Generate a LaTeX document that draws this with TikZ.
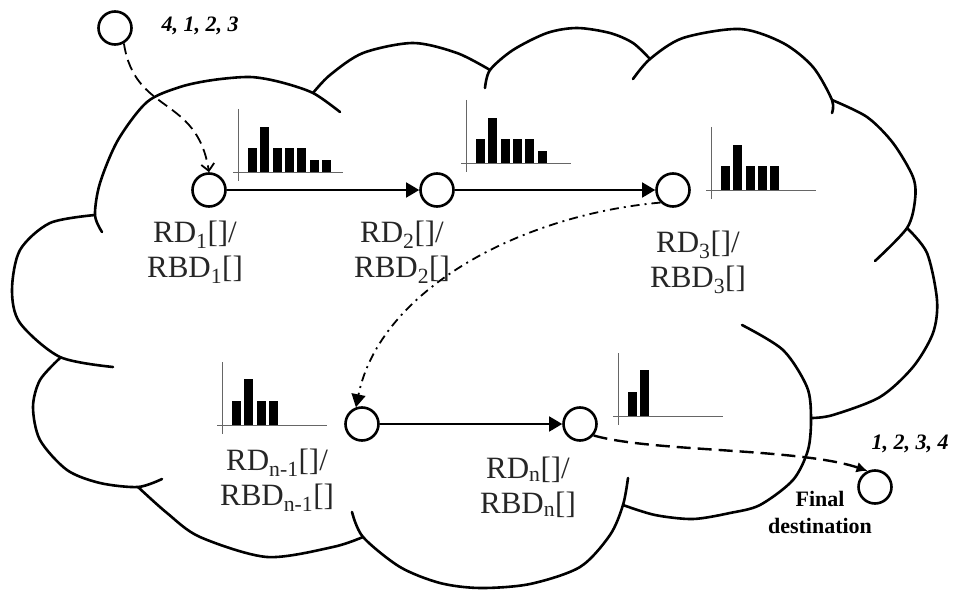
\documentclass[tikz,border=0pt]{standalone}
\usepackage{fontspec}
\setmainfont{Liberation Serif}
\usetikzlibrary{arrows.meta}

% #1 x of the y axis, #2 base line, #3 bar heights
\newcommand{\histo}[3]{%
  \draw[axis] (#1,#2-63) -- (#1,#2+9);
  \draw[axis] (#1-5,#2) -- (#1+105,#2);
  \foreach \h [count=\i] in {#3}
    \fill (#1+10+12.3*\i-12.3,#2) rectangle ++(9,-\h);
}

\begin{document}
\begin{tikzpicture}[x=1pt, y=-1pt,
  relay/.style={circle, draw, line width=2.6pt, minimum size=33pt, inner sep=0pt},
  cloud/.style={line width=2.6pt, line cap=round},
  axis/.style={draw=black!60, line width=1pt},
  tag/.style={align=center, inner sep=0pt, text=black!85, font=\fontsize{31}{35}\selectfont},
  seq/.style={inner sep=0pt, font=\fontsize{22}{26}\selectfont\bfseries\itshape},
  hop/.style={-{Triangle[length=13pt,width=15pt]}, line width=1.6pt},
  inarrow/.style={-{Straight Barb[length=7pt,width=13pt]}, line width=1.8pt, dash pattern=on 11pt off 6pt},
  jump/.style={-{Triangle[length=13pt,width=14pt]}, line width=1.8pt, dash pattern=on 9pt off 5pt on 2pt off 5pt},
  outarrow/.style={-{Latex[length=11pt,width=11pt]}, line width=2.4pt, dash pattern=on 14pt off 7pt}
]
  \useasboundingbox (0,0) rectangle (953,591);

  % cloud
  \draw[cloud] plot[smooth] coordinates {(102,232) (95,215) (100,183) (118,140) (147,102) (180,87) (213,80) (250,77) (280,82) (313,93) (340,112)};
  \draw[cloud] plot[smooth] coordinates {(313,93) (330,75) (363,53) (413,43) (457,53) (490,70)};
  \draw[cloud] plot[smooth] coordinates {(485,88) (490,70) (513,50) (547,33) (577,28) (610,33) (633,43) (650,59)};
  \draw[cloud] plot[smooth] coordinates {(633,79) (650,59) (683,38) (740,29) (783,43) (813,67) (832,100) (832,113)};
  \draw[cloud] plot[smooth] coordinates {(832,100) (867,117) (893,143) (913,177) (915,200) (907,228) (875,261)};
  \draw[cloud] plot[smooth] coordinates {(907,228) (927,253) (937,300) (933,333) (913,367) (880,397) (833,415) (812,418)};
  \draw[cloud] plot[smooth] coordinates {(742,325) (783,350) (807,387) (811,418) (808,450) (793,480) (760,505) (730,513) (693,519) (655,515) (623,505)};
  \draw[cloud] plot[smooth] coordinates {(352,512) (363,537) (400,567) (440,583) (480,588) (530,584) (580,567) (610,535) (623,505) (628,478)};
  \draw[cloud] plot[smooth] coordinates {(138,487) (167,513) (200,537) (267,557) (333,547) (363,537)};
  \draw[cloud] plot[smooth] coordinates {(60,358) (40,380) (33,407) (40,440) (67,470) (100,483) (138,487) (162,479)};
  \draw[cloud] plot[smooth] coordinates {(95,215) (50,223) (20,250) (12,290) (20,323) (60,357) (113,367)};

  % histograms
  \histo{238}{172}{24,45,24,24,24,12,12}
  \histo{466}{163}{24,45,24,24,24,12}
  \histo{711}{190}{24,45,24,24,24}
  \histo{222}{425}{24,46,24,24}
  \histo{618}{416}{24,46}

  \node[relay] (src) at (115,28) {};
  \node[relay] (rd1) at (209,190) {};
  \node[relay] (rd2) at (437,190) {};
  \node[relay] (rd3) at (673,190) {};
  \node[relay] (rdm) at (362,424) {};
  \node[relay] (rdn) at (580,424) {};
  \node[relay] (fin) at (875,487) {};

  \node[seq] (order) at (200,26) {4, 1, 2, 3};
  \node[seq] (final order) at (910,444) {1, 2, 3, 4};
  \node[align=center, inner sep=0pt, font=\fontsize{22}{27}\selectfont\bfseries] (dest) at (820,512) {Final\\destination};

  \node[tag] (l1) at (195,252) {RD\textsubscript{1}[]/\\RBD\textsubscript{1}[]};
  \node[tag] (l2) at (402,252) {RD\textsubscript{2}[]/\\RBD\textsubscript{2}[]};
  \node[tag] (l3) at (698,262) {RD\textsubscript{3}[]/\\RBD\textsubscript{3}[]};
  \node[tag] (lm) at (277,480) {RD\textsubscript{n-1}[]/\\RBD\textsubscript{n-1}[]};
  \node[tag] (ln) at (528,487) {RD\textsubscript{n}[]/\\RBD\textsubscript{n}[]};

  \draw[hop] (rd1) -- (rd2);
  \draw[hop] (rd2) -- (rd3);
  \draw[hop] (rdm) -- (rdn);
  \draw[inarrow] (src.-60) .. controls (135,115) and (197,95) .. (rd1.north);
  \draw[jump] (rd3.225) .. controls (520,215) and (380,290) .. (rdm.110);
  \draw[outarrow] (rdn.-40) .. controls (650,452) and (800,448) .. (fin.115);
\end{tikzpicture}
\end{document}
